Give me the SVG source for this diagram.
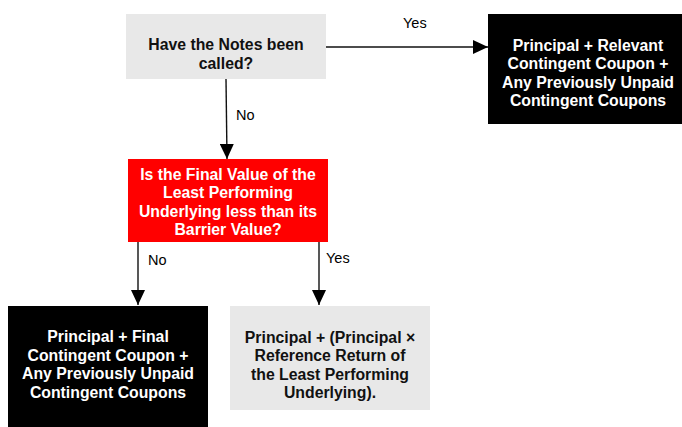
<svg xmlns="http://www.w3.org/2000/svg" width="682" height="427" viewBox="0 0 682 427">
<defs>
<marker id="ah" markerWidth="15" markerHeight="14" refX="15" refY="7" orient="auto" markerUnits="userSpaceOnUse">
<path d="M0,0 L15,7 L0,14 Z" fill="#000"/>
</marker>
<style>
.t{font-family:"Liberation Sans",Arial,sans-serif;font-weight:bold;font-size:15.8px;text-anchor:middle}
.lbl{font-family:"Liberation Sans",Arial,sans-serif;font-size:14.5px;fill:#000}
.gray{fill:#e8e8e8}
.blk{fill:#000}
.red{fill:#ff0000}
.edge{stroke:#111;stroke-width:1.4;fill:none;marker-end:url(#ah)}
</style>
</defs>
<rect width="682" height="427" fill="#fff"/>
<g id="connectors">
<line class="edge" x1="326" y1="47" x2="488" y2="47"/>
<line class="edge" x1="226" y1="79" x2="227" y2="159"/>
<line class="edge" x1="138" y1="242" x2="138" y2="305"/>
<line class="edge" x1="319" y1="242" x2="319" y2="305"/>
<text class="lbl" x="403" y="28">Yes</text>
<text class="lbl" x="236" y="120">No</text>
<text class="lbl" x="148" y="265">No</text>
<text class="lbl" x="326" y="263">Yes</text>
</g>
<g id="q1">
<rect class="gray" x="126" y="14" width="200" height="65"/>
<text class="t" fill="#111"><tspan x="226" y="50">Have the Notes been</tspan><tspan x="226" y="68.5">called?</tspan></text>
</g>
<g id="r1">
<rect class="blk" x="488" y="14" width="200" height="110"/>
<text class="t" fill="#fff"><tspan x="588" y="50.5">Principal + Relevant</tspan><tspan x="588" y="69">Contingent Coupon +</tspan><tspan x="588" y="87.5">Any Previously Unpaid</tspan><tspan x="588" y="106">Contingent Coupons</tspan></text>
</g>
<g id="q2">
<rect class="red" x="128" y="159" width="200" height="83"/>
<text class="t" fill="#fff"><tspan x="228" y="179.5">Is the Final Value of the</tspan><tspan x="228" y="198">Least Performing</tspan><tspan x="228" y="216.5">Underlying less than its</tspan><tspan x="228" y="235">Barrier Value?</tspan></text>
</g>
<g id="r2">
<rect class="blk" x="8" y="306" width="200" height="124"/>
<text class="t" fill="#fff"><tspan x="108" y="342">Principal + Final</tspan><tspan x="108" y="360.5">Contingent Coupon +</tspan><tspan x="108" y="379">Any Previously Unpaid</tspan><tspan x="108" y="397.5">Contingent Coupons</tspan></text>
</g>
<g id="r3">
<rect class="gray" x="230" y="306" width="200" height="104"/>
<text class="t" fill="#111"><tspan x="330" y="342.5">Principal + (Principal ×</tspan><tspan x="330" y="361">Reference Return of</tspan><tspan x="330" y="379.5">the Least Performing</tspan><tspan x="330" y="398">Underlying).</tspan></text>
</g>
</svg>
